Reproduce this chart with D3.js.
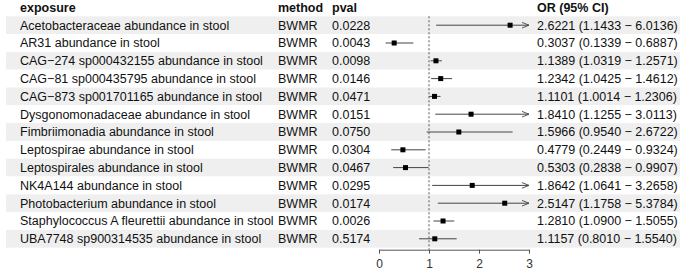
<!DOCTYPE html>
<html>
<head>
<meta charset="utf-8">
<script src="https://cdn.jsdelivr.net/npm/d3@7"></script>
<style>
  body { margin: 0; background: #fff; }
  svg text { font-family: "Liberation Sans", Arial, sans-serif; }
</style>
</head>
<body>
<div id="chart"></div>
<script>
// data
const exposures = [
    "Acetobacteraceae abundance in stool",
    "AR31 abundance in stool",
    "CAG\u2212274 sp000432155 abundance in stool",
    "CAG\u221281 sp000435795 abundance in stool",
    "CAG\u2212873 sp001701165 abundance in stool",
    "Dysgonomonadaceae abundance in stool",
    "Fimbriimonadia abundance in stool",
    "Leptospirae abundance in stool",
    "Leptospirales abundance in stool",
    "NK4A144 abundance in stool",
    "Photobacterium abundance in stool",
    "Staphylococcus A fleurettii abundance in stool",
    "UBA7748 sp900314535 abundance in stool"
];
const methods = ["BWMR", "BWMR", "BWMR", "BWMR", "BWMR", "BWMR", "BWMR", "BWMR", "BWMR", "BWMR", "BWMR", "BWMR", "BWMR"];
const pvals = ["0.0228", "0.0043", "0.0098", "0.0146", "0.0471", "0.0151", "0.0750", "0.0304", "0.0467", "0.0295", "0.0174", "0.0026", "0.5174"];
const orValues = [2.6221, 0.3037, 1.1389, 1.2342, 1.1101, 1.8410, 1.5966, 0.4779, 0.5303, 1.8642, 2.5147, 1.2810, 1.1157];
const lowerCI = [1.1433, 0.1339, 1.0319, 1.0425, 1.0014, 1.1255, 0.9540, 0.2449, 0.2838, 1.0641, 1.1758, 1.0900, 0.8010];
const upperCI = [6.0136, 0.6887, 1.2571, 1.4612, 1.2306, 3.0113, 2.6722, 0.9324, 0.9907, 3.2658, 5.3784, 1.5055, 1.5540];
const headers = ["exposure", "method", "pval", "", "OR (95% CI)"];
const xTicks = [0, 1, 2, 3];

const width = 685, height = 272;
const rowTop = 16.3, rowH = 17.8;
const colX = {exposure: 20, method: 278, pval: 332, ci: 537};

const rows = exposures.map((e, i) => ({
    exposure: e,
    method: methods[i],
    pval: pvals[i],
    or: orValues[i],
    lo: lowerCI[i],
    hi: upperCI[i]
}));

const svg = d3.select("#chart").append("svg")
    .attr("width", width)
    .attr("height", height);

const defs = svg.append("defs");
defs.append("marker")
    .attr("id", "arrow")
    .attr("viewBox", "0 0 10 10")
    .attr("refX", 10).attr("refY", 5)
    .attr("markerWidth", 7).attr("markerHeight", 7)
    .attr("markerUnits", "userSpaceOnUse")
    .attr("orient", "auto")
    .append("path")
    .attr("d", "M0,1 L10,5 L0,9")
    .attr("fill", "none")
    .attr("stroke", "#444")
    .attr("stroke-width", 1.3);

const y = d3.scaleBand()
    .domain(d3.range(rows.length))
    .range([rowTop, rowTop + rowH * rows.length])
    .padding(0);

const x = d3.scaleLinear()
    .domain([0, 3])
    .range([379, 529]);

// alternating row backgrounds
svg.selectAll(".band")
    .data(rows)
    .enter().append("rect")
    .attr("class", "band")
    .attr("x", 6)
    .attr("y", (d, i) => y(i))
    .attr("width", 674)
    .attr("height", y.bandwidth())
    .attr("fill", (d, i) => i % 2 === 0 ? "#efefef" : "#ffffff");

// headers
svg.selectAll(".hdr")
    .data([
        {t: headers[0], x: colX.exposure},
        {t: headers[1], x: colX.method},
        {t: headers[2], x: colX.pval},
        {t: headers[4], x: colX.ci}
    ])
    .enter().append("text")
    .attr("class", "hdr")
    .attr("x", d => d.x)
    .attr("y", 8)
    .attr("dy", "0.35em")
    .attr("font-size", 12.5)
    .attr("font-weight", "bold")
    .attr("fill", "#111")
    .text(d => d.t);

// table cells
const cell = (key, xPos, fmt) => {
    svg.selectAll(".c-" + key)
        .data(rows)
        .enter().append("text")
        .attr("class", "c-" + key)
        .attr("x", xPos)
        .attr("y", (d, i) => y(i) + y.bandwidth() / 2)
        .attr("dy", "0.35em")
        .attr("font-size", 12.5)
        .attr("fill", "#111")
        .text(fmt);
};
cell("exposure", colX.exposure, d => d.exposure);
cell("method", colX.method, d => d.method);
cell("pval", colX.pval, d => d.pval);
cell("ci", colX.ci, d => `${d.or.toFixed(4)} (${d.lo.toFixed(4)} \u2212 ${d.hi.toFixed(4)})`);

// reference line at OR = 1
svg.append("line")
    .attr("x1", x(1)).attr("x2", x(1))
    .attr("y1", rowTop).attr("y2", rowTop + rowH * rows.length + 2)
    .attr("stroke", "#555")
    .attr("stroke-width", 1)
    .attr("stroke-dasharray", "2,2");

// CI lines (clipped at axis limit with arrow)
const xMax = x.domain()[1];
svg.selectAll(".ci")
    .data(rows)
    .enter().append("line")
    .attr("class", "ci")
    .attr("x1", d => x(Math.max(d.lo, 0)))
    .attr("x2", d => x(Math.min(d.hi, xMax)))
    .attr("y1", (d, i) => y(i) + y.bandwidth() / 2)
    .attr("y2", (d, i) => y(i) + y.bandwidth() / 2)
    .attr("stroke", "#444")
    .attr("stroke-width", 1)
    .attr("marker-end", d => d.hi > xMax ? "url(#arrow)" : null);

// point estimates
const box = 5;
svg.selectAll(".pt")
    .data(rows)
    .enter().append("rect")
    .attr("class", "pt")
    .attr("x", d => x(d.or) - box / 2)
    .attr("y", (d, i) => y(i) + y.bandwidth() / 2 - box / 2)
    .attr("width", box)
    .attr("height", box)
    .attr("fill", "#000");

// x axis
const axisY = rowTop + rowH * rows.length + 2;
const axis = svg.append("g")
    .attr("transform", `translate(0,${axisY})`)
    .call(d3.axisBottom(x).tickValues(xTicks).tickFormat(d3.format("d")).tickSize(4).tickSizeOuter(0));
axis.select(".domain").attr("stroke", "#555");
axis.selectAll(".tick line").attr("stroke", "#555");
axis.selectAll(".tick text")
    .attr("font-size", 12)
    .attr("fill", "#333")
    .attr("dy", "0.95em")
    .style("font-family", "Liberation Sans, Arial, sans-serif");
</script>
</body>
</html>
